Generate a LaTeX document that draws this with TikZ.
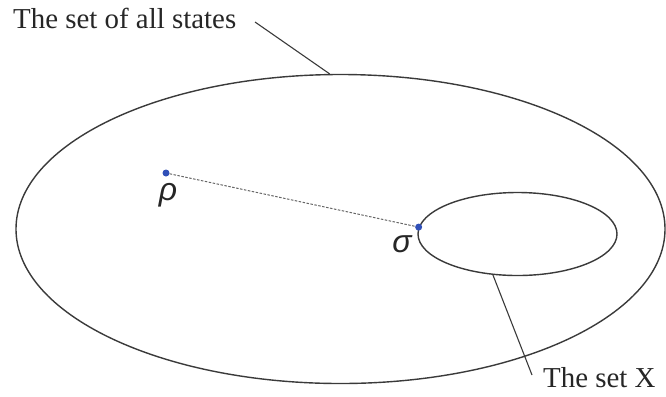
\documentclass[tikz,border=0pt]{standalone}
\usepackage{fontspec}
\setmainfont{Liberation Serif}
\newfontfamily\greekfont{Liberation Sans}
\usetikzlibrary{shapes.geometric}
\definecolor{linec}{HTML}{3A3A3A}
\definecolor{dotc}{HTML}{3050B8}
\tikzset{
  region/.style={ellipse, draw=linec, line width=1.4bp, inner sep=0pt},
  leader/.style={draw=linec, line width=1.1bp},
  lbl/.style={font=\fontsize{29}{32}\selectfont, text=black!85, inner sep=0pt},
  greek/.style={font=\greekfont\itshape\fontsize{32}{36}\selectfont, text=black!85, inner sep=0pt},
  pt/.style={circle, fill=dotc, inner sep=0pt, minimum size=7bp},
  link/.style={draw=black!60, dashed, dash pattern=on 2.5bp off 1.5bp, line width=1bp}
}
\begin{document}
\begin{tikzpicture}[x=1bp,y=-1bp]
\useasboundingbox (0,0) rectangle (666,396);
\node[region, minimum width=649bp, minimum height=309bp] (big) at (340.5,229) {};
\node[region, minimum width=199bp, minimum height=83bp] (small) at (517.5,234) {};
\node[lbl, anchor=base west] (lab1) at (13,28) {The set of all states};
\node[lbl, anchor=base west] (lab2) at (543,387) {The set X};
\coordinate (c1) at (255,22);
\coordinate (c2) at (532,375);
\draw[leader] (c1) -- (big.94);
\draw[leader] (small.-121) -- (c2);
\node[pt] (rho) at (166,173) {};
\coordinate (s) at (small.176);
\draw[link] (rho) -- (s);
\node[pt] (sigma) at (s) {};
\node[greek, anchor=base] (rl) at (168,200) {ρ};
\node[greek, anchor=base] (sl) at (402,252) {σ};
\end{tikzpicture}
\end{document}
